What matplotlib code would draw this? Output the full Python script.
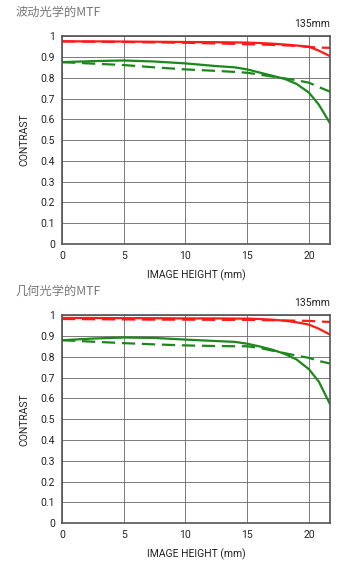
import matplotlib.pyplot as plt
import numpy as np

plt.rcParams['font.family'] = ['Roboto', 'Noto Sans CJK SC', 'DejaVu Sans']

# image height (mm)
x = [0, 2.5, 5, 7.5, 10, 12.5, 14, 15, 16, 17, 18, 19, 20, 20.8, 21.7]

# wave optics MTF (top panel)
wave_red_solid = [0.975, 0.975, 0.974, 0.973, 0.972, 0.971, 0.970, 0.969, 0.967, 0.964, 0.960, 0.955, 0.949, 0.930, 0.904]
wave_red_dash = [0.975, 0.973, 0.972, 0.970, 0.968, 0.965, 0.963, 0.961, 0.960, 0.958, 0.956, 0.953, 0.948, 0.945, 0.944]
wave_green_solid = [0.875, 0.880, 0.883, 0.878, 0.869, 0.856, 0.850, 0.840, 0.825, 0.810, 0.795, 0.770, 0.728, 0.670, 0.581]
wave_green_dash = [0.875, 0.868, 0.861, 0.850, 0.840, 0.833, 0.828, 0.824, 0.815, 0.806, 0.797, 0.788, 0.776, 0.755, 0.733]

# geometric optics MTF (bottom panel)
geo_red_solid = [0.987, 0.987, 0.986, 0.986, 0.985, 0.985, 0.984, 0.984, 0.982, 0.979, 0.974, 0.966, 0.955, 0.935, 0.907]
geo_red_dash = [0.982, 0.981, 0.980, 0.979, 0.979, 0.978, 0.978, 0.978, 0.977, 0.976, 0.975, 0.974, 0.973, 0.970, 0.968]
geo_green_solid = [0.880, 0.888, 0.893, 0.891, 0.883, 0.876, 0.872, 0.863, 0.850, 0.835, 0.815, 0.787, 0.740, 0.680, 0.572]
geo_green_dash = [0.880, 0.873, 0.866, 0.860, 0.855, 0.852, 0.851, 0.851, 0.843, 0.830, 0.818, 0.806, 0.795, 0.780, 0.768]

panels = [
    ('波动光学的MTF', wave_red_solid, wave_red_dash, wave_green_solid, wave_green_dash, 0.568),
    ('几何光学的MTF', geo_red_solid, geo_red_dash, geo_green_solid, geo_green_dash, 0.074),
]

red = '#ff1a1a'
green = '#1a881a'
tick_c = '#222222'

fig = plt.figure(figsize=(3.5, 5.65), dpi=100)

for title, rs, rd, gs, gd, bottom in panels:
    ax = fig.add_axes([0.177, bottom, 0.766, 0.368])
    ax.plot(x, gd, color=green, lw=1.6, dashes=(6, 3))
    ax.plot(x, gs, color=green, lw=1.6)
    ax.plot(x, rd, color=red, lw=1.6, dashes=(6, 3))
    ax.plot(x, rs, color=red, lw=1.6)

    ax.set_xlim(0, 21.7)
    ax.set_ylim(0, 1)
    ax.set_xticks([0, 5, 10, 15, 20])
    ax.set_yticks(np.arange(0, 1.01, 0.1))
    ax.set_yticklabels(['0', '0.1', '0.2', '0.3', '0.4', '0.5', '0.6', '0.7', '0.8', '0.9', '1'])
    ax.grid(True, color='#666666', lw=0.6)
    ax.set_axisbelow(True)
    ax.tick_params(length=0, labelsize=7.5, colors=tick_c, pad=5)
    for s in ax.spines.values():
        s.set_color('#555555')
        s.set_linewidth(1.2)

    ax.set_ylabel('CONTRAST', fontsize=7.5, color=tick_c, labelpad=8)
    ax.set_xlabel('IMAGE HEIGHT (mm)', fontsize=7.5, color=tick_c, labelpad=6)
    ax.text(1.0, 1.035, '135mm', transform=ax.transAxes, ha='right', va='bottom',
            fontsize=7.5, color=tick_c)
    fig.text(0.045, bottom + 0.41, title, ha='left', va='center',
             fontsize=8.8, color='#777777', family=['Noto Sans CJK SC', 'DejaVu Sans'])

fig.savefig('out.png', dpi=100)
